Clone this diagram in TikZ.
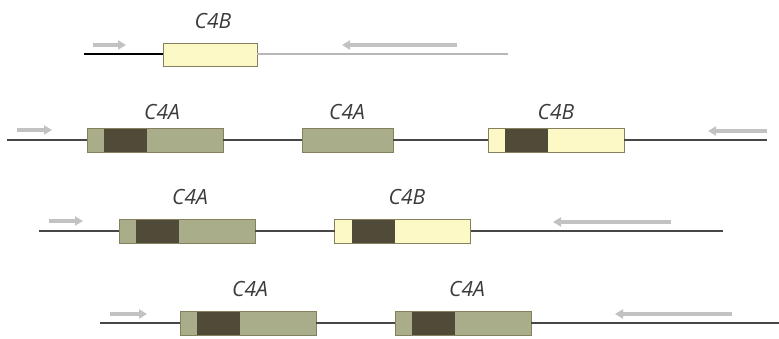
\documentclass[tikz,border=0pt]{standalone}
\usepackage{fontspec}
\setmainfont{Open Sans}
\usetikzlibrary{arrows.meta,calc}

\definecolor{strand}{HTML}{474747}
\definecolor{oliveA}{HTML}{A9AD89}
\definecolor{oliveDark}{HTML}{504A38}
\definecolor{paleB}{HTML}{FDF9C6}
\definecolor{boxedge}{HTML}{85805E}
\definecolor{primergray}{HTML}{C2C2C2}
\definecolor{labelgray}{HTML}{3C3C3C}
\definecolor{faint}{HTML}{B8B8B8}

\tikzset{
  strandline/.style={draw=strand, line width=2.8pt},
  genebox/.style={draw=boxedge, line width=0.9pt, minimum height=24pt,
    minimum width=136pt, inner sep=0pt, outer sep=0pt},
  darkband/.style={path picture={
    \fill[oliveDark]
      ($(path picture bounding box.south west)+(17pt,0)$) rectangle
      ($(path picture bounding box.north west)+(60pt,0)$);}},
  geneA/.style={genebox, fill=oliveA, darkband},
  geneAplain/.style={genebox, fill=oliveA, minimum width=91pt},
  geneB/.style={genebox, fill=paleB, darkband},
  geneBplain/.style={genebox, fill=paleB, minimum width=94pt, minimum height=23pt},
  primer/.style={draw=primergray, line width=3.2pt,
    -{Triangle[length=8pt,width=9pt]}},
  genelabel/.style={font=\itshape\fontsize{21}{21}\selectfont, text=labelgray,
    inner sep=0pt}
}

\begin{document}
\begin{tikzpicture}[x=1pt,y=-1pt]
\useasboundingbox (0,0) rectangle (779,339);

% ---- row 1: single C4B copy ----
\node[geneBplain] (b11) at (210,54.5) {};
\node[genelabel] (t11) at (213,21) {C4B};
\coordinate (r1s) at (84,54);
\coordinate (r1e) at (508,54);
\draw[draw=black, line width=2.2pt] (r1s) -- (r1s -| b11.west);
\draw[draw=faint, line width=1.2pt] (b11.east |- r1e) -- (r1e);
\coordinate (p1a) at (93,45);  \coordinate (p1b) at (126,45);
\coordinate (p1c) at (457,45); \coordinate (p1d) at (342,45);
\draw[primer] (p1a) -- (p1b);
\draw[primer] (p1c) -- (p1d);

% ---- row 2: C4A, C4A, C4B ----
\coordinate (r2s) at (7,140);
\coordinate (r2e) at (767,140);
\node[geneA] (b21) at (155,140) {};
\node[geneAplain] (b22) at (347.5,140) {};
\node[geneB] (b23) at (556,140) {};
\draw[strandline] (r2s) -- (b21.west);
\draw[strandline] (b21.east) -- (b22.west);
\draw[strandline] (b22.east) -- (b23.west);
\draw[strandline] (b23.east) -- (r2e);
\node[genelabel] (t21) at (162,112) {C4A};
\node[genelabel] (t22) at (347,112) {C4A};
\node[genelabel] (t23) at (556,112) {C4B};
\coordinate (p2a) at (17,130);  \coordinate (p2b) at (52,130);
\coordinate (p2c) at (767,131); \coordinate (p2d) at (708,131);
\draw[primer] (p2a) -- (p2b);
\draw[primer] (p2c) -- (p2d);

% ---- row 3: C4A, C4B ----
\coordinate (r3s) at (39,231);
\coordinate (r3e) at (723,231);
\node[geneA] (b31) at (187,231) {};
\node[geneB] (b32) at (402.5,231) {};
\draw[strandline] (r3s) -- (b31.west);
\draw[strandline] (b31.east) -- (b32.west);
\draw[strandline] (b32.east) -- (r3e);
\node[genelabel] (t31) at (190,197) {C4A};
\node[genelabel] (t32) at (407,197) {C4B};
\coordinate (p3a) at (49,221);  \coordinate (p3b) at (83,221);
\coordinate (p3c) at (671,222); \coordinate (p3d) at (553,222);
\draw[primer] (p3a) -- (p3b);
\draw[primer] (p3c) -- (p3d);

% ---- row 4: C4A, C4A ----
\coordinate (r4s) at (100,323);
\coordinate (r4e) at (779,323);
\node[geneA] (b41) at (248,323) {};
\node[geneA] (b42) at (463,323) {};
\draw[strandline] (r4s) -- (b41.west);
\draw[strandline] (b41.east) -- (b42.west);
\draw[strandline] (b42.east) -- (r4e);
\node[genelabel] (t41) at (250,289) {C4A};
\node[genelabel] (t42) at (467,289) {C4A};
\coordinate (p4a) at (110,314); \coordinate (p4b) at (147,314);
\coordinate (p4c) at (732,314); \coordinate (p4d) at (615,314);
\draw[primer] (p4a) -- (p4b);
\draw[primer] (p4c) -- (p4d);
\end{tikzpicture}
\end{document}
